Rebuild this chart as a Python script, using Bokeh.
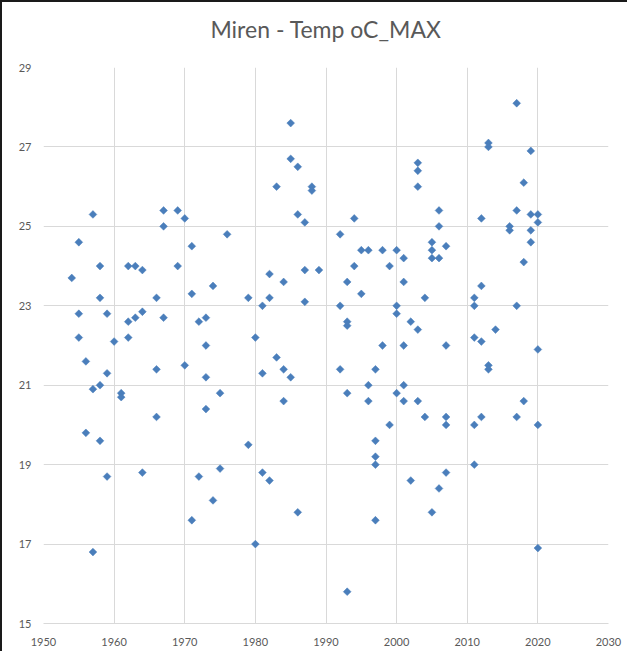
import numpy as np
from bokeh.plotting import figure
from bokeh.models import FixedTicker, ColumnDataSource
from bokeh.embed import file_html
from bokeh.resources import INLINE

# ---- data (year, max temperature) ----
years = [
    1954,
    1955, 1955, 1955,
    1956, 1956,
    1957, 1957, 1957,
    1958, 1958, 1958, 1958,
    1959, 1959, 1959,
    1960,
    1961, 1961,
    1962, 1962, 1962,
    1963, 1963,
    1964, 1964, 1964,
    1966, 1966, 1966,
    1967, 1967, 1967,
    1969, 1969,
    1970, 1970,
    1971, 1971, 1971,
    1972, 1972,
    1973, 1973, 1973, 1973,
    1974, 1974,
    1975, 1975,
    1976,
    1979, 1979,
    1980, 1980,
    1981, 1981, 1981,
    1982, 1982, 1982,
    1983, 1983,
    1984, 1984, 1984,
    1985, 1985, 1985,
    1986, 1986, 1986,
    1987, 1987, 1987,
    1988, 1988,
    1989,
    1992, 1992, 1992,
    1993, 1993, 1993, 1993, 1993,
    1994, 1994,
    1995, 1995,
    1996, 1996, 1996,
    1997, 1997, 1997, 1997, 1997,
    1998, 1998,
    1999, 1999,
    2000, 2000, 2000, 2000,
    2001, 2001, 2001, 2001, 2001,
    2002, 2002,
    2003, 2003, 2003, 2003, 2003,
    2004, 2004,
    2005, 2005, 2005, 2005,
    2006, 2006, 2006, 2006,
    2007, 2007, 2007, 2007, 2007,
    2011, 2011, 2011, 2011, 2011,
    2012, 2012, 2012, 2012,
    2013, 2013, 2013, 2013,
    2014,
    2016, 2016,
    2017, 2017, 2017, 2017,
    2018, 2018, 2018,
    2019, 2019, 2019, 2019,
    2020, 2020, 2020, 2020, 2020,
]
temp_max = [
    23.7,
    24.6, 22.8, 22.2,
    21.6, 19.8,
    25.3, 20.9, 16.8,
    24.0, 23.2, 21.0, 19.6,
    22.8, 21.3, 18.7,
    22.1,
    20.8, 20.7,
    24.0, 22.6, 22.2,
    24.0, 22.7,
    23.9, 22.85, 18.8,
    23.2, 21.4, 20.2,
    25.4, 25.0, 22.7,
    25.4, 24.0,
    25.2, 21.5,
    24.5, 23.3, 17.6,
    22.6, 18.7,
    22.7, 22.0, 21.2, 20.4,
    23.5, 18.1,
    20.8, 18.9,
    24.8,
    23.2, 19.5,
    22.2, 17.0,
    23.0, 21.3, 18.8,
    23.8, 23.2, 18.6,
    26.0, 21.7,
    23.6, 21.4, 20.6,
    27.6, 26.7, 21.2,
    26.5, 25.3, 17.8,
    25.1, 23.9, 23.1,
    26.0, 25.9,
    23.9,
    24.8, 23.0, 21.4,
    23.6, 22.6, 22.5, 20.8, 15.8,
    25.2, 24.0,
    24.4, 23.3,
    24.4, 21.0, 20.6,
    21.4, 19.6, 19.2, 19.0, 17.6,
    24.4, 22.0,
    24.0, 20.0,
    24.4, 23.0, 22.8, 20.8,
    24.2, 23.6, 22.0, 21.0, 20.6,
    22.6, 18.6,
    26.6, 26.4, 26.0, 22.4, 20.6,
    23.2, 20.2,
    24.6, 24.4, 24.2, 17.8,
    25.4, 25.0, 24.2, 18.4,
    24.5, 22.0, 20.2, 20.0, 18.8,
    23.2, 23.0, 22.2, 20.0, 19.0,
    25.2, 23.5, 22.1, 20.2,
    27.1, 27.0, 21.5, 21.4,
    22.4,
    25.0, 24.9,
    28.1, 25.4, 23.0, 20.2,
    26.1, 24.1, 20.6,
    26.9, 25.3, 24.9, 24.6,
    25.3, 25.1, 21.9, 20.0, 16.9,
]
x_ticks = [1950, 1960, 1970, 1980, 1990, 2000, 2010, 2020, 2030]
y_ticks = [15, 17, 19, 21, 23, 25, 27, 29]
title_text = "Miren - Temp oC_MAX"

FONT = "Lato"
TXT = "#595959"
GRID = "#d9d9d9"

p = figure(
    frame_width=565, frame_height=556,
    min_border_left=41, min_border_right=19,
    min_border_top=65, min_border_bottom=28,
    x_range=(x_ticks[0], x_ticks[-1]), y_range=(y_ticks[0], y_ticks[-1]),
    output_backend="svg", toolbar_location=None,
    background_fill_color="white", border_fill_color="white",
)
p.styles = {"border-top": "2px solid #1a1a1a", "border-left": "2px solid #1a1a1a"}
p.outline_line_color = None

p.title.text = title_text
p.title.align = "center"
p.title.vertical_align = "bottom"
p.title.text_font = FONT
p.title.text_font_size = "23px"
p.title.text_font_style = "normal"
p.title.text_color = TXT
p.title.standoff = 10
p.title.padding = dict(left=0, right=0, top=0, bottom=20)

p.xaxis.ticker = FixedTicker(ticks=x_ticks)
p.yaxis.ticker = FixedTicker(ticks=y_ticks)
for ax in (p.xaxis, p.yaxis):
    ax.major_tick_line_color = None
    ax.minor_tick_line_color = None
    ax.major_tick_out = 0
    ax.major_label_text_font = FONT
    ax.major_label_text_font_size = "11px"
    ax.major_label_text_color = TXT
p.xaxis.axis_line_color = GRID
p.yaxis.axis_line_color = None
p.xaxis.major_label_standoff = 14
p.yaxis.major_label_standoff = 12

p.xgrid.ticker = FixedTicker(ticks=x_ticks)
p.ygrid.ticker = FixedTicker(ticks=y_ticks)
p.grid.grid_line_color = GRID
p.grid.grid_line_width = 1

src = ColumnDataSource(dict(x=years, y=temp_max))
p.scatter("x", "y", source=src, marker="square", angle=np.pi / 4, size=5.5,
          fill_color="#4a7ebb", line_color="#4a7ebb", line_width=0.5)

open("out.html", "w").write(file_html(p, INLINE))
